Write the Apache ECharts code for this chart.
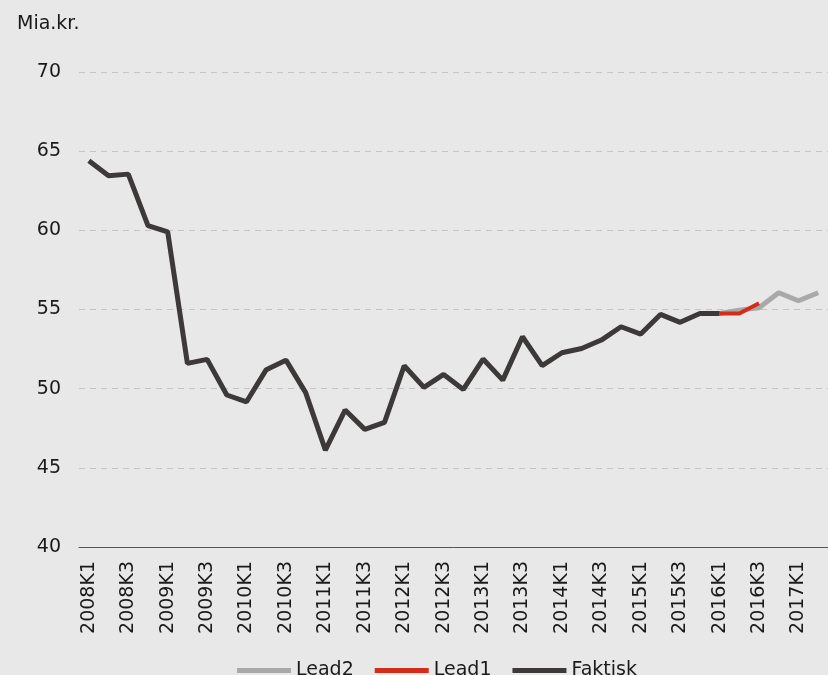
<!DOCTYPE html>
<html>
<head>
<meta charset="utf-8">
<script src="https://cdn.jsdelivr.net/npm/echarts@6/dist/echarts.min.js"></script>
<style>
  html, body { margin: 0; padding: 0; background: #e8e8e8; }
  #chart { width: 828px; height: 675px; }
</style>
</head>
<body>
<div id="chart"></div>
<script>
// kvartaler 2008K1 - 2017K2
const quarters = []
for (let y = 2008; y <= 2017; y++) {
  for (let k = 1; k <= 4; k++) {
    if (y === 2017 && k > 2) break
    quarters.push(y + 'K' + k)
  }
}

// Faktisk: 2008K1 - 2016K1
const faktisk = [
  64.4, 63.45, 63.55, 60.3, 59.9, 51.6, 51.85, 49.6,
  49.17, 51.2, 51.8, 49.75, 46.12, 48.65, 47.43, 47.87,
  51.45, 50.08, 50.9, 49.95, 51.87, 50.54, 53.28, 51.45,
  52.27, 52.54, 53.07, 53.91, 53.45, 54.69, 54.19, 54.75,
  54.75
]
// Lead1: 2016K1 - 2016K3
const lead1 = [54.75, 54.75, 55.39]
// Lead2: 2016K1 - 2017K2
const lead2 = [54.75, 54.96, 55.11, 56.06, 55.55, 56.06]

const startIdx = quarters.indexOf('2016K1')
function pad (values, start) {
  const out = quarters.map(() => null)
  values.forEach((v, i) => { out[start + i] = v })
  return out
}

const font = 'DejaVu Sans'
const fs = 19
const chart = echarts.init(document.getElementById('chart'))
chart.setOption({
  backgroundColor: '#e8e8e8',
  animation: false,
  textStyle: { fontFamily: font },
  title: {
    text: 'Mia.kr.',
    left: 12,
    top: 10,
    textStyle: { fontFamily: font, fontSize: fs, fontWeight: 'normal', color: '#1a1a1a' }
  },
  legend: {
    top: 656,
    left: 232,
    icon: 'rect',
    itemWidth: 54,
    itemHeight: 5,
    itemGap: 21,
    textStyle: { fontFamily: font, fontSize: fs, color: '#1a1a1a' },
    data: ['Lead2', 'Lead1', 'Faktisk']
  },
  grid: { left: 79, right: -6, top: 72, bottom: 128 },
  xAxis: {
    type: 'category',
    data: quarters,
    boundaryGap: true,
    axisLine: { lineStyle: { color: '#555', width: 1 } },
    axisTick: { show: false },
    axisLabel: {
      interval: 1,
      rotate: 90,
      margin: 14,
      fontSize: fs,
      color: '#1a1a1a',
      fontFamily: font
    }
  },
  yAxis: {
    type: 'value',
    min: 40,
    max: 70,
    interval: 5,
    axisLine: { show: false },
    axisTick: { show: false },
    axisLabel: { fontSize: fs, color: '#1a1a1a', margin: 18, fontFamily: font },
    splitLine: { lineStyle: { color: '#c4c4c4', type: [6, 5], width: 1 } }
  },
  series: [
    {
      name: 'Lead2',
      type: 'line',
      data: pad(lead2, startIdx),
      showSymbol: false,
      lineStyle: { color: '#a9a9a9', width: 5 },
      itemStyle: { color: '#a9a9a9' }
    },
    {
      name: 'Lead1',
      type: 'line',
      data: pad(lead1, startIdx),
      showSymbol: false,
      lineStyle: { color: '#d42c1b', width: 4 },
      itemStyle: { color: '#d42c1b' }
    },
    {
      name: 'Faktisk',
      type: 'line',
      data: pad(faktisk, 0),
      showSymbol: false,
      lineStyle: { color: '#3c3938', width: 5 },
      itemStyle: { color: '#3c3938' }
    }
  ]
})
</script>
</body>
</html>
